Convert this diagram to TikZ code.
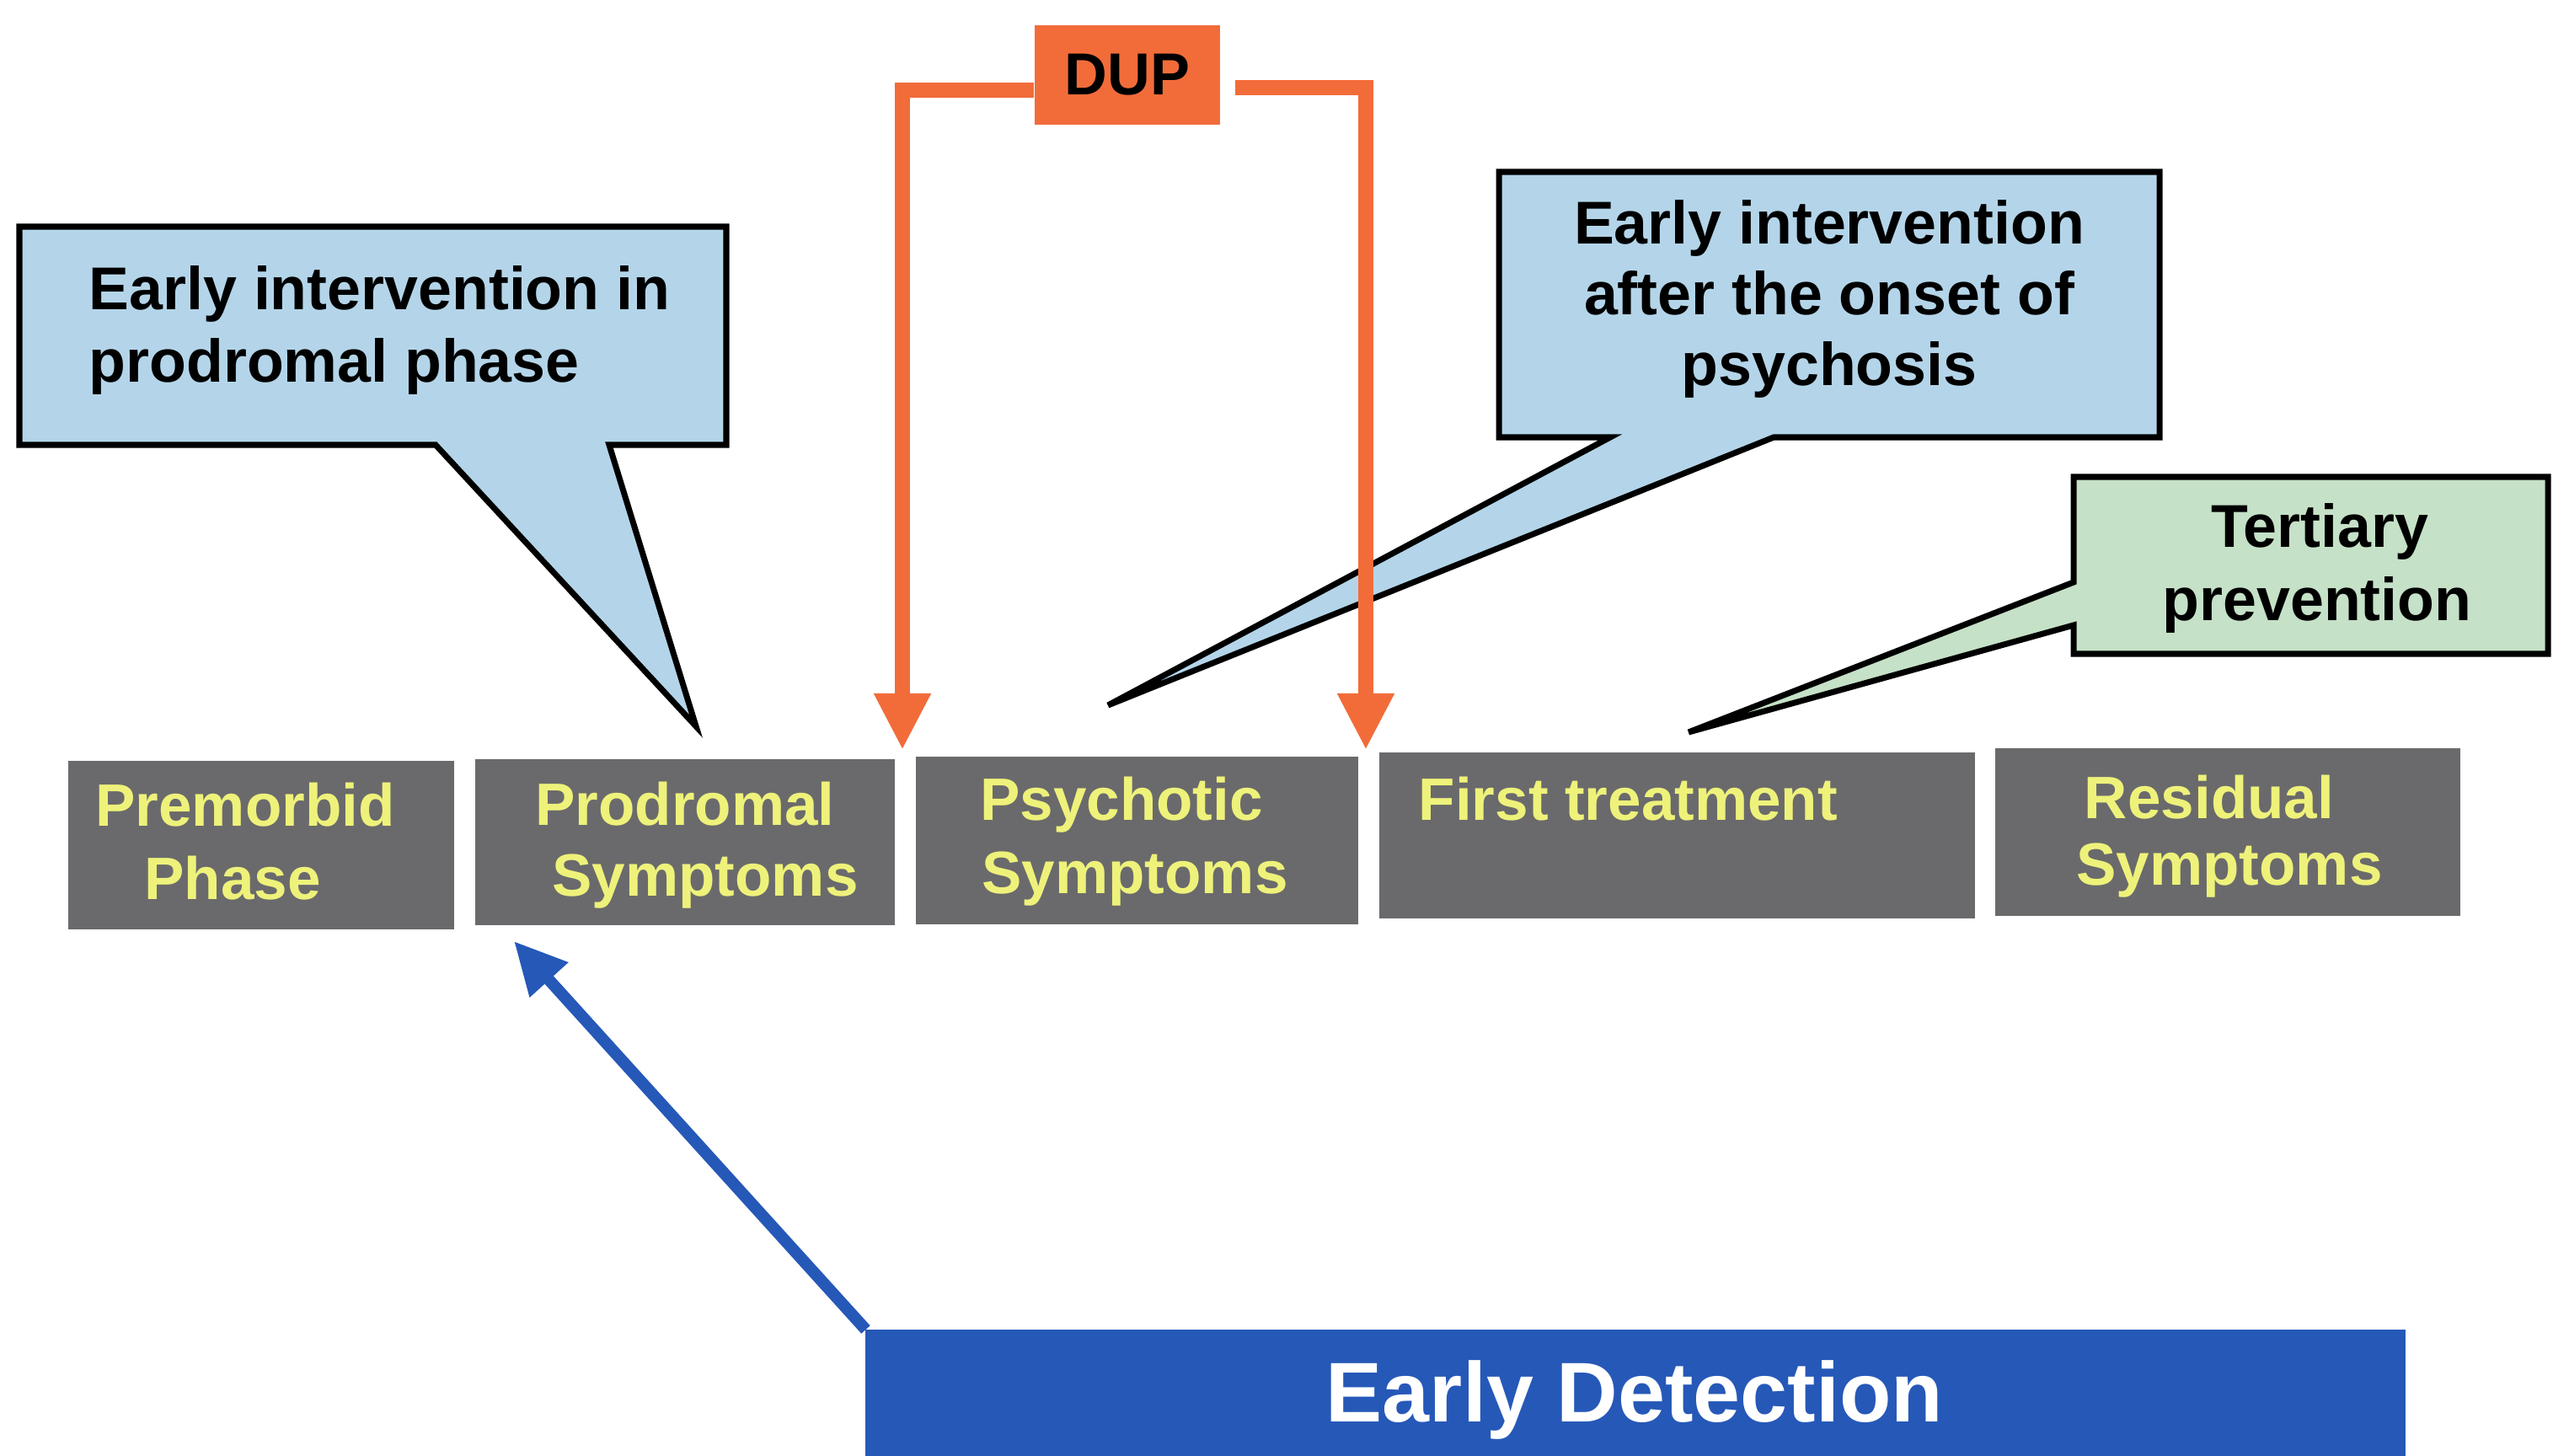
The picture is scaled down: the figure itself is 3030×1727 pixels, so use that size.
\documentclass[tikz,border=0pt]{standalone}
\usepackage{fontspec}
\setmainfont{Liberation Sans}
\usetikzlibrary{arrows.meta}
\definecolor{boxgray}{RGB}{106,106,108}
\definecolor{txtyellow}{RGB}{238,242,122}
\definecolor{calloutblue}{RGB}{180,213,233}
\definecolor{calloutgreen}{RGB}{197,225,199}
\definecolor{duporange}{RGB}{242,108,58}
\definecolor{edblue}{RGB}{38,88,184}
\tikzset{
  phasebox/.style={fill=boxgray, draw=none, inner sep=0pt, outer sep=0pt},
  phasetxt/.style={text=txtyellow, font=\bfseries\fontsize{20.2}{24}\selectfont, inner sep=0pt, anchor=base},
  calltxt/.style={text=black, font=\bfseries\fontsize{20.4}{24}\selectfont, inner sep=0pt, anchor=base},
  callout/.style={draw=black, line width=2pt, line join=miter},
  duparrow/.style={draw=duporange, line width=0.18cm, line join=miter, -{Triangle[length=0.67cm,width=0.63cm]}},
  edarrow/.style={draw=edblue, line width=0.14cm, -{Triangle[length=0.62cm,width=0.58cm]}}
}
\begin{document}
\begin{tikzpicture}[x=0.01cm,y=-0.01cm]
\useasboundingbox (0,0) rectangle (3030,1727);
\clip (0,0) rectangle (3030,1727);
\fill[white] (0,0) rectangle (3030,1727);

% callout 1
\coordinate (tip1) at (826,862);
\draw[callout, fill=calloutblue] (23,269) -- (862,269) -- (862,528) -- (723,528) -- (tip1) -- (517,528) -- (23,528) -- cycle;
\node[calltxt, anchor=base west] (c1a) at (105,367) {Early intervention in};
\node[calltxt, anchor=base west] (c1b) at (105,453) {prodromal phase};

% callout 2
\coordinate (tip2) at (1315,837);
\draw[callout, fill=calloutblue] (1779,204) -- (2563,204) -- (2563,519) -- (2105,519) -- (tip2) -- (1911,519) -- (1779,519) -- cycle;
\node[calltxt] (c2a) at (2171,289) {Early intervention};
\node[calltxt] (c2b) at (2171,373) {after the onset of};
\node[calltxt] (c2c) at (2171,457) {psychosis};

% callout 3
\coordinate (tip3) at (2004,869);
\draw[callout, fill=calloutgreen] (2461,566) -- (3024,566) -- (3024,776) -- (2461,776) -- (2461,742) -- (tip3) -- (2461,691) -- cycle;
\node[calltxt] (c3a) at (2753,649) {Tertiary};
\node[calltxt] (c3b) at (2750,736) {prevention};

% phase boxes
\node[phasebox, minimum width=4.58cm, minimum height=2.00cm] (b1) at (310,1003) {};
\node[phasebox, minimum width=4.98cm, minimum height=1.97cm] (b2) at (813,999.5) {};
\node[phasebox, minimum width=5.25cm, minimum height=1.99cm] (b3) at (1349.5,997.5) {};
\node[phasebox, minimum width=7.07cm, minimum height=1.97cm] (b4) at (1990.5,991.5) {};
\node[phasebox, minimum width=5.52cm, minimum height=1.99cm] (b5) at (2644,987.5) {};

\node[phasetxt] (t1a) at (291,980) {Premorbid};
\node[phasetxt] (t1b) at (276,1067) {Phase};
\node[phasetxt] (t2a) at (813,979) {Prodromal};
\node[phasetxt] (t2b) at (837,1063) {Symptoms};
\node[phasetxt] (t3a) at (1331,973) {Psychotic};
\node[phasetxt] (t3b) at (1347,1060) {Symptoms};
\node[phasetxt, anchor=base west] (t4a) at (1683,973) {First treatment};
\node[phasetxt] (t5a) at (2622,971) {Residual};
\node[phasetxt] (t5b) at (2646,1050) {Symptoms};

% DUP
\node[fill=duporange, inner sep=0pt, minimum width=2.20cm, minimum height=1.18cm,
      font=\bfseries\fontsize{20}{24}\selectfont] (dup) at (1338,89) {DUP};
\coordinate (dupL) at (1071,890);
\coordinate (dupR) at (1621,890);
\draw[duparrow] (dup.west) ++(0,18) -| (dupL);
\draw[duparrow] (dup.east) ++(17,15) -| (dupR);

% Early detection
\node[fill=edblue, inner sep=0pt, outer sep=0pt, minimum width=18.26cm, minimum height=1.82cm] (ed) at (1941,1669) {};
\node[text=white, font=\bfseries\fontsize{28.6}{32}\selectfont, inner sep=0pt, anchor=base] (edt) at (1940,1687) {Early Detection};
\coordinate (edtip) at (610,1117);
\draw[edarrow] (ed.north west) -- (edtip);
\end{tikzpicture}
\end{document}
